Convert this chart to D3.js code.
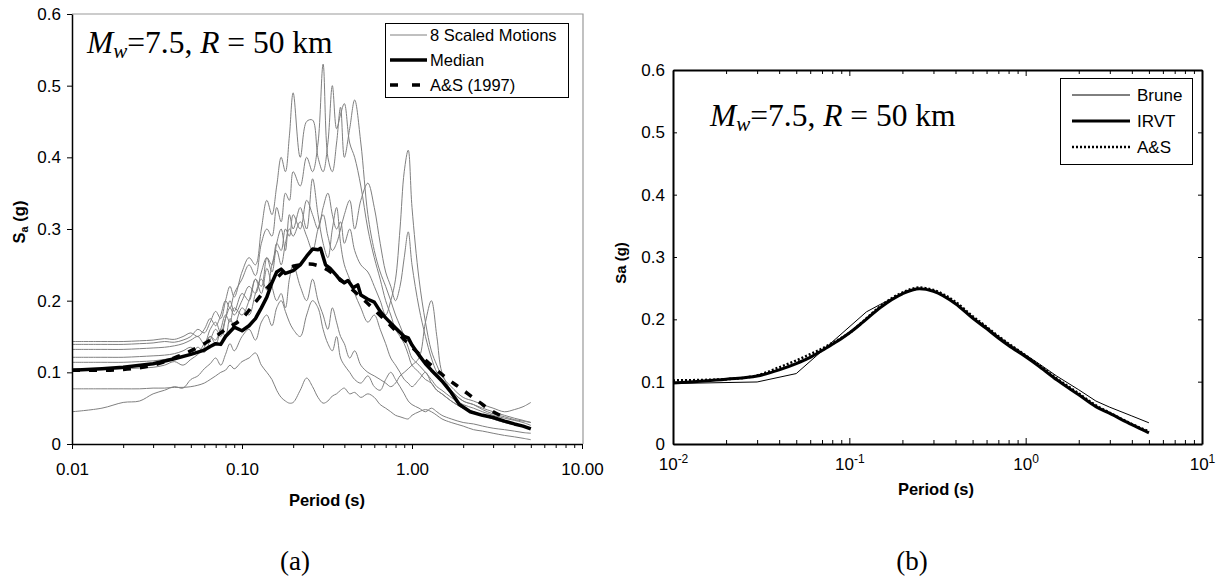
<!DOCTYPE html>
<html>
<head>
<meta charset="utf-8">
<script src="https://cdn.jsdelivr.net/npm/d3@7"></script>
<style>
  body { margin: 0; background: #fff; }
  svg text { font-family: "Liberation Sans", Arial, sans-serif; fill: #000; }
  .serif { font-family: "Liberation Serif", "Times New Roman", serif !important; white-space: pre; }
</style>
</head>
<body>
<svg id="chart" width="1225" height="581"></svg>
<script>
// ---------- panel (a) data ----------
var periods = [0.01,0.015,0.02,0.025,0.03,0.035,0.04,0.045,
  0.05,0.055,0.06,0.065,0.07,0.075,0.08,0.085,0.09,
  0.1,0.11,0.12,0.13,0.14,0.15,0.16,0.17,0.18,0.19,0.2,
  0.22,0.24,0.26,0.28,0.3,0.32,0.34,0.36,0.38,0.4,0.43,0.46,0.5,
  0.55,0.6,0.65,0.7,0.75,0.8,0.85,0.9,0.95,1.0,
  1.1,1.2,1.3,1.4,1.5,1.7,2.0,2.3,2.6,3.0,3.5,4.0,4.5,5.0];

var motion1 = [0.143,0.143,0.143,0.144,0.145,0.147,0.146,0.150,
  0.155,0.150,0.160,0.175,0.165,0.180,0.200,0.190,0.210,
  0.230,0.250,0.235,0.280,0.300,0.290,0.330,0.310,0.350,0.340,0.380,
  0.360,0.400,0.380,0.420,0.530,0.400,0.380,0.420,0.470,0.400,0.440,0.480,0.420,
  0.320,0.270,0.240,0.220,0.200,0.180,0.165,0.150,0.135,0.120,
  0.110,0.100,0.090,0.080,0.075,0.065,0.055,0.050,0.045,0.040,0.036,0.033,0.030,0.026];
var motion2 = [0.139,0.139,0.139,0.140,0.141,0.143,0.142,0.145,
  0.150,0.160,0.155,0.170,0.185,0.175,0.200,0.220,0.205,
  0.240,0.260,0.250,0.300,0.340,0.320,0.360,0.400,0.380,0.430,0.490,
  0.400,0.450,0.452,0.400,0.380,0.420,0.500,0.440,0.460,0.475,0.420,0.400,0.360,
  0.300,0.260,0.230,0.200,0.180,0.160,0.150,0.140,0.125,0.110,
  0.100,0.090,0.085,0.075,0.070,0.060,0.050,0.045,0.040,0.035,0.030,0.027,0.024,0.022];
var motion3 = [0.132,0.132,0.132,0.133,0.134,0.135,0.137,0.140,
  0.145,0.150,0.140,0.160,0.170,0.155,0.175,0.190,0.180,
  0.200,0.220,0.210,0.240,0.260,0.250,0.280,0.270,0.300,0.290,0.320,
  0.300,0.340,0.320,0.300,0.330,0.350,0.320,0.300,0.310,0.280,0.300,0.270,0.250,
  0.240,0.220,0.200,0.180,0.200,0.230,0.300,0.380,0.410,0.330,
  0.230,0.170,0.130,0.110,0.095,0.080,0.065,0.060,0.055,0.050,0.045,0.048,0.052,0.058];
var motion4 = [0.121,0.121,0.121,0.122,0.123,0.124,0.126,0.130,
  0.135,0.128,0.140,0.150,0.145,0.160,0.150,0.175,0.165,
  0.190,0.180,0.210,0.230,0.215,0.250,0.270,0.250,0.280,0.300,0.290,
  0.310,0.290,0.270,0.300,0.320,0.290,0.270,0.280,0.300,0.320,0.340,0.300,0.340,
  0.364,0.330,0.280,0.240,0.220,0.200,0.220,0.260,0.296,0.250,
  0.190,0.150,0.120,0.100,0.090,0.075,0.060,0.055,0.050,0.045,0.040,0.036,0.033,0.030];
var motion5 = [0.114,0.114,0.114,0.115,0.116,0.118,0.120,0.122,
  0.125,0.135,0.128,0.145,0.160,0.150,0.175,0.200,0.185,
  0.210,0.200,0.230,0.220,0.260,0.240,0.280,0.300,0.270,0.320,0.300,
  0.330,0.300,0.370,0.320,0.280,0.260,0.300,0.330,0.280,0.250,0.230,0.210,0.190,
  0.170,0.180,0.160,0.140,0.120,0.110,0.100,0.090,0.085,0.080,
  0.090,0.100,0.085,0.075,0.070,0.060,0.050,0.045,0.040,0.035,0.030,0.028,0.025,0.023];
var motion6 = [0.104,0.104,0.105,0.106,0.107,0.110,0.115,0.110,
  0.118,0.125,0.135,0.150,0.140,0.160,0.180,0.170,0.190,
  0.180,0.200,0.230,0.210,0.245,0.220,0.200,0.210,0.190,0.230,0.250,
  0.220,0.200,0.230,0.200,0.180,0.160,0.190,0.170,0.150,0.140,0.120,0.130,0.110,
  0.100,0.095,0.090,0.085,0.080,0.085,0.095,0.100,0.105,0.110,
  0.120,0.170,0.200,0.150,0.100,0.075,0.060,0.055,0.048,0.042,0.038,0.034,0.032,0.030];
var motion7 = [0.077,0.077,0.077,0.077,0.078,0.078,0.079,0.079,
  0.080,0.082,0.085,0.090,0.095,0.100,0.103,0.110,0.105,
  0.115,0.120,0.127,0.110,0.100,0.090,0.075,0.065,0.060,0.057,0.058,
  0.075,0.092,0.080,0.065,0.057,0.060,0.067,0.070,0.075,0.078,0.070,0.072,0.065,
  0.070,0.065,0.055,0.050,0.045,0.040,0.038,0.036,0.035,0.040,
  0.045,0.048,0.045,0.040,0.035,0.030,0.025,0.020,0.018,0.015,0.012,0.010,0.008,0.006];
var motion8 = [0.045,0.050,0.058,0.060,0.070,0.075,0.080,0.078,
  0.090,0.095,0.105,0.112,0.120,0.110,0.125,0.140,0.130,
  0.150,0.160,0.145,0.170,0.180,0.165,0.190,0.200,0.185,0.170,0.160,
  0.150,0.180,0.200,0.190,0.160,0.140,0.130,0.150,0.120,0.110,0.100,0.090,0.085,
  0.095,0.080,0.075,0.090,0.100,0.090,0.080,0.070,0.060,0.055,
  0.050,0.045,0.050,0.045,0.040,0.035,0.030,0.028,0.025,0.022,0.020,0.018,0.016,0.015];

var medianPeriods = [0.01,0.015,0.02,0.03,0.04,0.05,0.06,0.065,0.07,0.075,0.08,0.09,
  0.1,0.11,0.12,0.13,0.14,0.15,0.16,0.17,0.18,0.2,0.22,0.24,0.26,0.28,0.29,
  0.31,0.33,0.36,0.38,0.4,0.42,0.45,0.48,0.5,0.55,0.6,0.65,0.7,0.8,0.9,0.95,
  1.0,1.1,1.2,1.3,1.5,1.7,1.9,2.2,2.6,3.0,3.5,4.0,4.5,5.0];
var medianValues = [0.103,0.105,0.107,0.112,0.119,0.125,0.131,0.136,0.140,0.139,0.150,0.163,
  0.158,0.165,0.175,0.190,0.205,0.225,0.240,0.244,0.238,0.242,0.250,0.262,0.272,0.271,0.273,
  0.250,0.245,0.235,0.228,0.225,0.228,0.218,0.222,0.208,0.202,0.198,0.185,0.176,0.162,0.150,0.148,
  0.138,0.124,0.112,0.103,0.088,0.072,0.055,0.045,0.040,0.037,0.032,0.028,0.025,0.021];

var asPeriods = [0.01,0.015,0.02,0.03,0.04,0.05,0.06,0.07,0.08,0.1,0.12,0.15,
  0.2,0.25,0.3,0.4,0.5,0.7,1.0,1.5,2.0,2.5,3.0,3.3];
var asValues = [0.103,0.103,0.104,0.110,0.120,0.130,0.140,0.150,0.160,0.175,0.198,0.225,
  0.248,0.251,0.246,0.225,0.205,0.172,0.135,0.097,0.075,0.058,0.045,0.040];

// ---------- panel (b) data ----------
var bPeriods = [0.01,0.02,0.03,0.04,0.05,0.06,0.07,0.08,0.09,0.1,0.12,0.15,0.2,0.25,
  0.3,0.4,0.5,0.6,0.7,0.8,1.0,1.2,1.5,2.0,2.5,3.0,4.0,5.0];
var irvtValues = [0.098,0.104,0.109,0.119,0.129,0.139,0.150,0.160,0.169,0.178,0.196,0.219,0.241,0.249,
  0.245,0.225,0.202,0.185,0.170,0.158,0.140,0.124,0.103,0.079,0.060,0.049,0.031,0.018];
var asbValues = [0.102,0.104,0.110,0.123,0.134,0.144,0.153,0.162,0.170,0.178,0.197,0.221,0.243,0.251,
  0.247,0.228,0.205,0.188,0.173,0.161,0.142,0.126,0.105,0.081,0.062,0.050,0.032,0.020];
var brunePeriods = [0.01,0.03,0.05,0.125,0.15,0.2,0.25,0.3,0.4,0.5,0.6,0.7,0.8,1.0,
  1.2,1.5,2.0,2.5,3.0,4.0,5.0];
var bruneValues = [0.097,0.0995,0.113,0.212,0.224,0.242,0.249,0.246,0.227,0.204,0.188,0.173,0.161,0.143,
  0.128,0.109,0.087,0.069,0.059,0.045,0.034];

var yTicks = [0,0.1,0.2,0.3,0.4,0.5,0.6];
var xMajor = [0.01,0.1,1,10];
var xMajorLabelsA = ["0.01","0.10","1.00","10.00"];

function zip(xs, ys){ return xs.map(function(x,i){ return [x, ys[i]]; }); }

var svg = d3.select("#chart");

// minor tick values for log axes
var xAll = [];
[0.01,0.1,1].forEach(function(dec){
  for (var k = 1; k <= 9; k++) xAll.push(+(dec*k).toPrecision(3));
});
xAll.push(10);

// ================= panel (a) =================
var xa = d3.scaleLog().domain([0.01,10]).range([72,582]);
var ya = d3.scaleLinear().domain([0,0.6]).range([444,14]);

// plot border (grey) on top and right
svg.append("path")
  .attr("d", "M" + xa(0.01) + "," + ya(0.6) + "H" + 583 + "V" + ya(0))
  .attr("fill","none").attr("stroke","#999").attr("stroke-width",1.2);

var lineA = d3.line().x(function(d){ return xa(d[0]); }).y(function(d){ return ya(d[1]); });

var motions = [motion1,motion2,motion3,motion4,motion5,motion6,motion7,motion8];
svg.append("g").selectAll("path").data(motions).enter().append("path")
  .attr("d", function(m){ return lineA.curve(d3.curveCatmullRom.alpha(0.5))(zip(periods,m)); })
  .attr("fill","none").attr("stroke","#808080").attr("stroke-width",1);

svg.append("path")
  .attr("d", lineA.curve(d3.curveMonotoneX)(zip(asPeriods, asValues)))
  .attr("fill","none").attr("stroke","#000").attr("stroke-width",3.5).attr("stroke-dasharray","8,9");

svg.append("path")
  .attr("d", lineA.curve(d3.curveLinear)(zip(medianPeriods, medianValues)))
  .attr("fill","none").attr("stroke","#000").attr("stroke-width",3.5).attr("stroke-linejoin","round");

var gyA = svg.append("g").attr("transform","translate(" + xa(0.01) + ",0)")
  .call(d3.axisLeft(ya).tickValues(yTicks).tickSize(5).tickSizeOuter(0).tickPadding(6)
    .tickFormat(function(d){ return d === 0 ? "0" : d.toFixed(1); }));
var gxA = svg.append("g").attr("transform","translate(0," + ya(0) + ")")
  .call(d3.axisBottom(xa).tickValues(xAll).tickSize(5).tickSizeOuter(0).tickPadding(14)
    .tickFormat(function(d){ var i = xMajor.indexOf(d); return i >= 0 ? xMajorLabelsA[i] : ""; }));
gxA.selectAll(".tick line").attr("y2", function(d){ return xMajor.indexOf(d) >= 0 ? 5 : 4; });
[gyA, gxA].forEach(function(g){
  g.select(".domain").attr("stroke","#000").attr("stroke-width",1.5);
  g.selectAll(".tick line").attr("stroke","#000");
  g.selectAll("text").attr("font-size","17px").attr("font-family","Liberation Sans, Arial, sans-serif");
});

svg.append("text").attr("x",327).attr("y",506).attr("text-anchor","middle")
  .attr("font-size","16.5px").attr("font-weight","bold").text("Period (s)");
var ytA = svg.append("text").attr("transform","translate(25,222) rotate(-90)")
  .attr("text-anchor","middle").attr("font-size","16.5px").attr("font-weight","bold");
ytA.append("tspan").text("S");
ytA.append("tspan").attr("font-size","11px").attr("dy",3).text("a");
ytA.append("tspan").attr("dy",-3).text(" (g)");

function annotation(x, y){
  var t = svg.append("text").attr("class","serif").attr("x",x).attr("y",y).attr("font-size","31.5px");
  t.append("tspan").attr("font-style","italic").text("M");
  t.append("tspan").attr("font-style","italic").attr("font-size","21px").attr("dy",5).text("w");
  t.append("tspan").attr("dy",-5).text("=7.5, ");
  t.append("tspan").attr("font-style","italic").text("R");
  t.append("tspan").text(" = 50 km");
}
annotation(87, 53);

// legend (a)
var legA = svg.append("g");
legA.append("rect").attr("x",385.5).attr("y",23.5).attr("width",183).attr("height",74)
  .attr("fill","#fff").attr("stroke","#000").attr("stroke-width",1);
var legAItems = [
  {label:"8 Scaled Motions", color:"#808080", width:1, dash:null},
  {label:"Median", color:"#000", width:3.5, dash:null},
  {label:"A&S (1997)", color:"#000", width:3.5, dash:"8,14"}
];
legAItems.forEach(function(it, i){
  var yy = 35 + i * 25;
  legA.append("line").attr("x1",390).attr("x2",427).attr("y1",yy).attr("y2",yy)
    .attr("stroke",it.color).attr("stroke-width",it.width).attr("stroke-dasharray",it.dash);
  legA.append("text").attr("x",430).attr("y",yy).attr("dy","0.35em")
    .attr("font-size","16.5px").text(it.label);
});

// ================= panel (b) =================
var xb = d3.scaleLog().domain([0.01,10]).range([673,1202]);
var yb = d3.scaleLinear().domain([0,0.6]).range([444,70]);
var lineB = d3.line().x(function(d){ return xb(d[0]); }).y(function(d){ return yb(d[1]); });

svg.append("path").attr("d", lineB.curve(d3.curveLinear)(zip(brunePeriods, bruneValues)))
  .attr("fill","none").attr("stroke","#000").attr("stroke-width",1);
svg.append("path").attr("d", lineB.curve(d3.curveMonotoneX)(zip(bPeriods, irvtValues)))
  .attr("fill","none").attr("stroke","#000").attr("stroke-width",3);
svg.append("path").attr("d", lineB.curve(d3.curveMonotoneX)(zip(bPeriods, asbValues)))
  .attr("fill","none").attr("stroke","#000").attr("stroke-width",2.5).attr("stroke-dasharray","2,2");

var gLeftB = svg.append("g").attr("transform","translate(" + xb(0.01) + ",0)")
  .call(d3.axisLeft(yb).tickValues(yTicks).tickSize(-4).tickSizeOuter(0).tickPadding(8)
    .tickFormat(function(d){ return d === 0 ? "0" : d.toFixed(1); }));
var gRightB = svg.append("g").attr("transform","translate(" + xb(10) + ",0)")
  .call(d3.axisRight(yb).tickValues(yTicks).tickSize(-4).tickSizeOuter(0).tickFormat(""));
var gBotB = svg.append("g").attr("transform","translate(0," + yb(0) + ")")
  .call(d3.axisBottom(xb).tickValues(xAll).tickSize(-6).tickSizeOuter(0).tickPadding(14).tickFormat(""));
var gTopB = svg.append("g").attr("transform","translate(0," + yb(0.6) + ")")
  .call(d3.axisTop(xb).tickValues(xAll).tickSize(-6).tickSizeOuter(0).tickFormat(""));
gBotB.selectAll(".tick line").attr("y2", function(d){ return xMajor.indexOf(d) >= 0 ? -6 : -4; });
gTopB.selectAll(".tick line").attr("y2", function(d){ return xMajor.indexOf(d) >= 0 ? 6 : 4; });
gBotB.selectAll(".tick text").each(function(d){
  if (xMajor.indexOf(d) < 0) return;
  var t = d3.select(this).attr("dy","0.71em");
  t.append("tspan").text("10");
  t.append("tspan").attr("dy","-0.55em").text(String(Math.round(Math.log10(d))));
});
[gLeftB, gRightB, gBotB, gTopB].forEach(function(g){
  g.select(".domain").attr("stroke","#000").attr("stroke-width",2);
  g.selectAll(".tick line").attr("stroke","#000");
  g.selectAll("text").attr("font-size","17px").attr("font-family","Liberation Sans, Arial, sans-serif");
});
gBotB.selectAll("tspan").filter(function(){ return this.textContent !== "10"; }).attr("font-size","12px");

svg.append("text").attr("x",936).attr("y",495).attr("text-anchor","middle")
  .attr("font-size","16.5px").attr("font-weight","bold").text("Period (s)");
svg.append("text").attr("transform","translate(626,263) rotate(-90)")
  .attr("text-anchor","middle").attr("font-size","15px").attr("font-weight","bold").text("Sa (g)");

annotation(710, 126);

// legend (b)
var legB = svg.append("g");
legB.append("rect").attr("x",1060.5).attr("y",78.5).attr("width",132).attr("height",86)
  .attr("fill","#fff").attr("stroke","#000").attr("stroke-width",1);
var legBItems = [
  {label:"Brune", width:1, dash:null},
  {label:"IRVT", width:3, dash:null},
  {label:"A&S", width:2.5, dash:"2,2"}
];
legBItems.forEach(function(it, i){
  var yy = 95 + i * 26;
  legB.append("line").attr("x1",1072).attr("x2",1130).attr("y1",yy).attr("y2",yy)
    .attr("stroke","#000").attr("stroke-width",it.width).attr("stroke-dasharray",it.dash);
  legB.append("text").attr("x",1137).attr("y",yy).attr("dy","0.35em")
    .attr("font-size","17px").text(it.label);
});

// panel captions
svg.append("text").attr("class","serif").attr("x",295).attr("y",570).attr("text-anchor","middle")
  .attr("font-size","27px").text("(a)");
svg.append("text").attr("class","serif").attr("x",912).attr("y",570).attr("text-anchor","middle")
  .attr("font-size","27px").text("(b)");
</script>
</body>
</html>
